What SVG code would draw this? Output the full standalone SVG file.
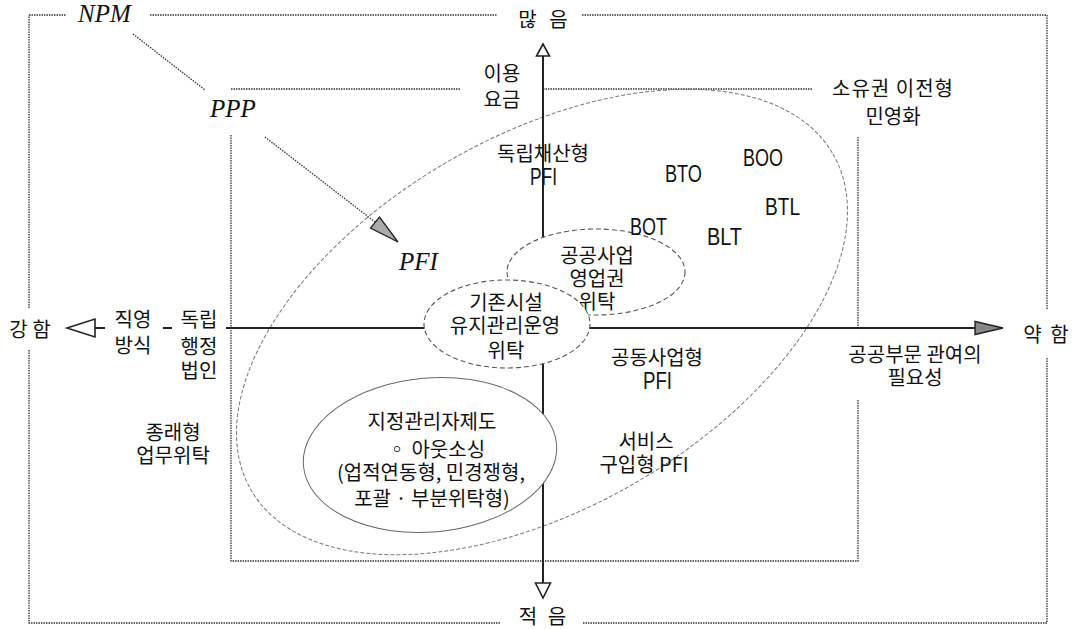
<svg xmlns="http://www.w3.org/2000/svg" width="1079" height="629" viewBox="0 0 1079 629">
<style>
.frame{fill:none;stroke:#333;stroke-width:1.3;stroke-dasharray:1.5 1}
.axis{fill:none;stroke:#222;stroke-width:2}
.ko{font-family:"Noto Sans CJK KR","Noto Sans",sans-serif;font-size:20px;fill:#111;text-anchor:middle;dominant-baseline:central}
.lat{font-family:"Liberation Sans",Arial,sans-serif;font-size:24px;fill:#111;dominant-baseline:central}
.it{font-family:"Liberation Serif","Times New Roman",serif;font-style:italic;font-size:25px;fill:#111}
.dot{fill:none;stroke:#333;stroke-width:1.3;stroke-dasharray:1.5 1.2}
.hollow{fill:#fff;stroke:#222;stroke-width:1.6}
.dash{fill:#fff;stroke:#555;stroke-width:1.1;stroke-dasharray:5 3}
.big{fill:none;stroke:#777;stroke-width:1;stroke-dasharray:4 2}
</style>
<rect width="1079" height="629" fill="#fff"/>

<g id="outer-frame" class="frame">
<path d="M29,15H66M150,15H497M582,15H1047V310M1047,358V623H582M500,623H29V350M29,308V15"/>
</g>
<g id="inner-frame" class="frame">
<path d="M231,89H460M543,89H813M858,137V327M858,400V561H231V135"/>
</g>

<g id="scope-ellipse">
<ellipse class="big" cx="542" cy="322" rx="336" ry="186" transform="rotate(-30 542 322)"/>
</g>

<g id="connectors">
<path class="axis" d="M95,328H105M163,328H172M226,328H975"/>
<polygon class="hollow" points="67,328 95,319 95,337"/>
<polygon points="1003,328 975,321.5 975,334.5" fill="#888" stroke="#222" stroke-width="1.4"/>
<path class="axis" d="M543,56V583"/>
<polygon class="hollow" points="543,44 536.5,56 549.5,56"/>
<polygon class="hollow" points="543,598 535.5,583 550.5,583"/>
<path class="dot" d="M133,34L205,90"/>
<path class="dot" d="M265,137L375,222"/>
<polygon points="398,242 370.5,228 379.5,217" fill="#aaa" stroke="#222" stroke-width="1.3"/>
</g>

<g id="concession-ellipse">
<ellipse class="dash" cx="596" cy="272" rx="89" ry="43"/>
<text class="ko"><tspan x="597" y="254">공공사업</tspan><tspan x="597" y="277">영업권</tspan><tspan x="597" y="300">위탁</tspan></text>
</g>
<g id="existing-ellipse">
<ellipse class="dash" cx="507" cy="324" rx="83" ry="44"/>
<text class="ko"><tspan x="506" y="301">기존시설</tspan><tspan x="505" y="324">유지관리운영</tspan><tspan x="506" y="349">위탁</tspan></text>
</g>
<g id="designated-ellipse">
<ellipse cx="430" cy="455" rx="127" ry="77" fill="#fff" stroke="#666" stroke-width="1" transform="rotate(-5 430 455)"/>
<text class="ko"><tspan x="432" y="420">지정관리자제도</tspan><tspan x="436" y="448">◦ 아웃소싱</tspan><tspan x="431" y="471">(업적연동형, 민경쟁형,</tspan><tspan x="432" y="497">포괄 · 부분위탁형)</tspan></text>
</g>

<g id="npm"><text class="it" x="78" y="22">NPM</text></g>
<g id="ppp"><text class="it" x="210" y="117">PPP</text></g>
<g id="pfi"><text class="it" x="399" y="270">PFI</text></g>

<g id="label-many"><text class="ko" x="545" y="18" style="letter-spacing:4px">많 음</text></g>
<g id="label-few"><text class="ko" x="544" y="615" style="letter-spacing:3px">적 음</text></g>
<g id="label-strong"><text class="ko" x="30" y="328">강 함</text></g>
<g id="label-weak"><text class="ko" x="1047" y="333" style="letter-spacing:2px">약 함</text></g>
<g id="label-fee">
<text class="ko"><tspan x="502" y="72">이용</tspan><tspan x="502" y="98">요금</tspan></text>
</g>
<g id="label-privatization">
<text class="ko"><tspan x="893" y="87" style="letter-spacing:1px">소유권 이전형</tspan><tspan x="893" y="115">민영화</tspan></text>
</g>
<g id="label-public-need">
<text class="ko"><tspan x="915" y="353">공공부문 관여의</tspan><tspan x="915" y="376">필요성</tspan></text>
</g>
<g id="label-direct">
<text class="ko"><tspan x="133" y="318">직영</tspan><tspan x="133" y="344">방식</tspan></text>
</g>
<g id="label-agency">
<text class="ko"><tspan x="199" y="318">독립</tspan><tspan x="199" y="345">행정</tspan><tspan x="199" y="369">법인</tspan></text>
</g>
<g id="label-traditional">
<text class="ko"><tspan x="173" y="431">종래형</tspan><tspan x="173" y="454">업무위탁</tspan></text>
</g>
<g id="label-independent-pfi">
<text class="ko" x="543" y="152">독립채산형</text>
<text class="lat" x="530" y="176" textLength="27" lengthAdjust="spacingAndGlyphs">PFI</text>
</g>
<g id="label-joint-pfi">
<text class="ko" x="657" y="356">공동사업형</text>
<text class="lat" x="643" y="380" textLength="29" lengthAdjust="spacingAndGlyphs">PFI</text>
</g>
<g id="label-service-pfi">
<text class="ko"><tspan x="646" y="440">서비스</tspan><tspan x="644" y="463">구입형 PFI</tspan></text>
</g>
<g id="bto"><text class="lat" x="665" y="173" textLength="37" lengthAdjust="spacingAndGlyphs">BTO</text></g>
<g id="boo"><text class="lat" x="743" y="157" textLength="40" lengthAdjust="spacingAndGlyphs">BOO</text></g>
<g id="btl"><text class="lat" x="765" y="206" textLength="35" lengthAdjust="spacingAndGlyphs">BTL</text></g>
<g id="blt"><text class="lat" x="707" y="236" textLength="35" lengthAdjust="spacingAndGlyphs">BLT</text></g>
<g id="bot"><text class="lat" x="630" y="226" textLength="37" lengthAdjust="spacingAndGlyphs">BOT</text></g>
</svg>
